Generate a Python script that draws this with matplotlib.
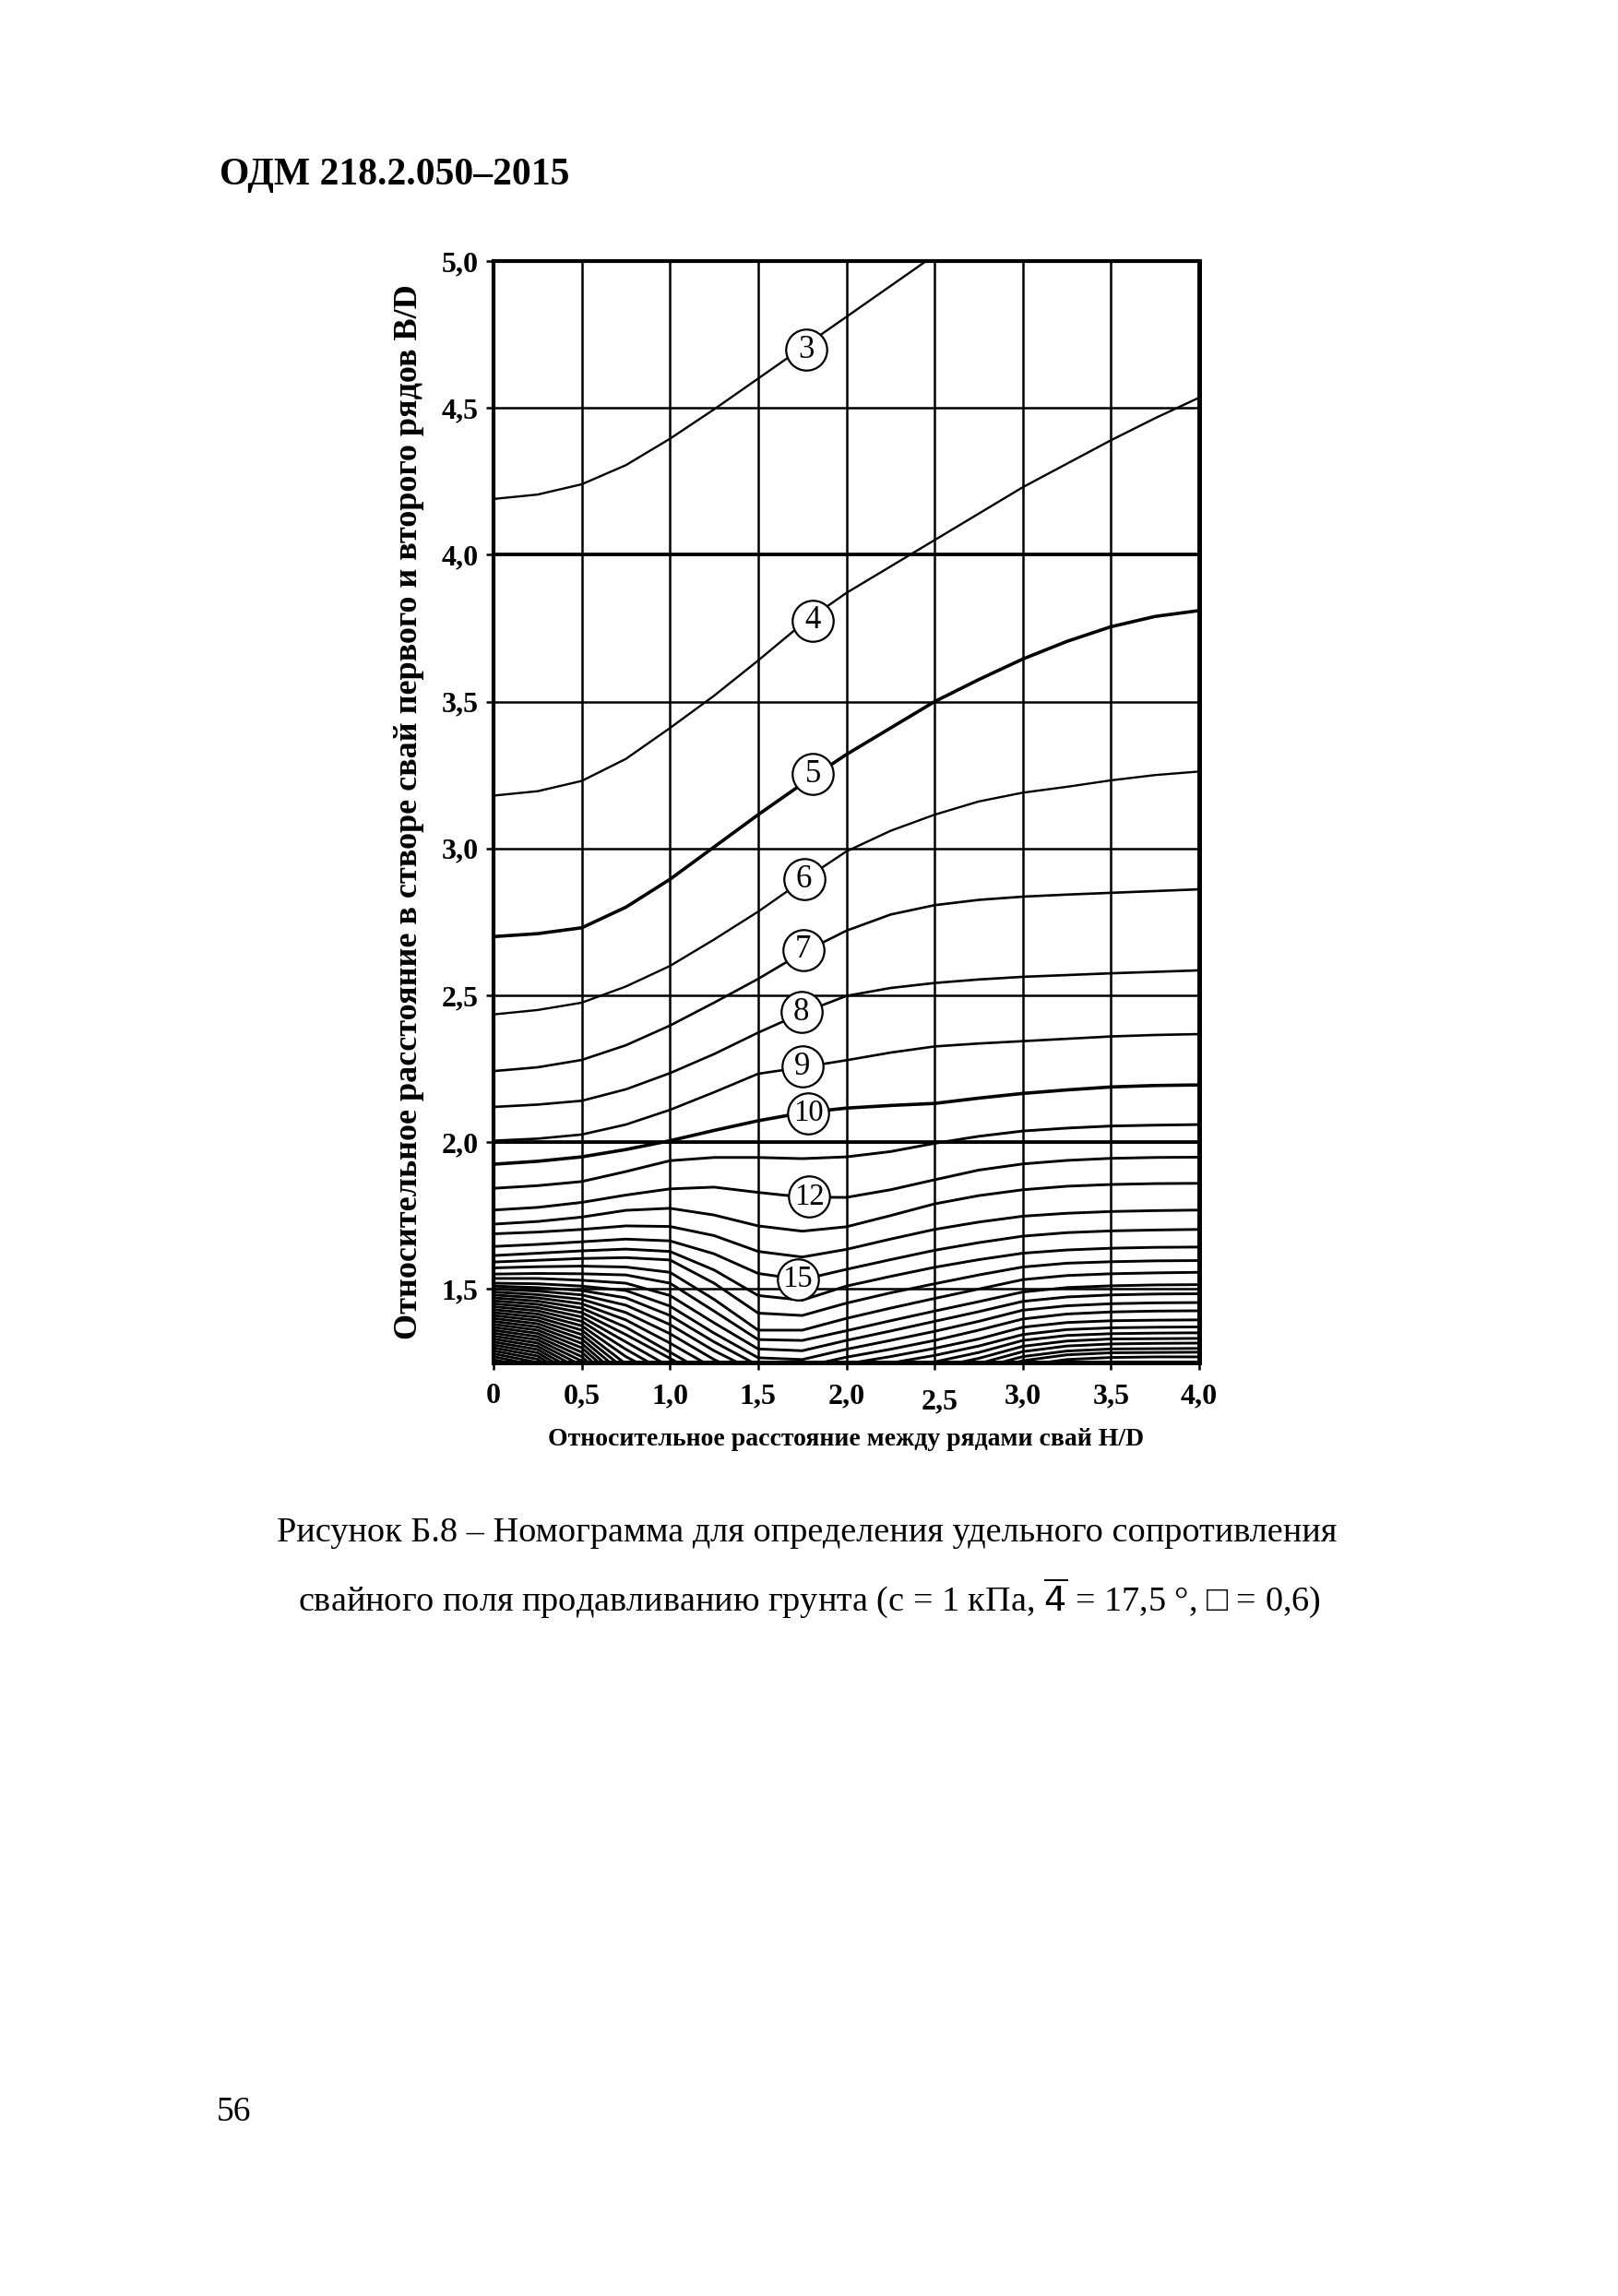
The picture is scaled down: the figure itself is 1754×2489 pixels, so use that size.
import numpy as np
import matplotlib.pyplot as plt
from matplotlib.transforms import ScaledTranslation

n = np.nan

hd = [0, 0.25, 0.5, 0.75, 1.0, 1.25, 1.5, 1.75, 2.0, 2.25, 2.5, 2.75, 3.0, 3.25, 3.5, 3.75, 4.0]

# B/D for each curve (labelled 3 ... 15, the rest unlabelled)
r3 = [4.19, 4.205, 4.24, 4.305, 4.395, 4.495, 4.60, 4.705, 4.81, 4.915, 5.02]
r4 = [3.18, 3.195, 3.23, 3.305, 3.41, 3.52, 3.64, 3.765, 3.87, 3.96, 4.05, 4.14, 4.23, 4.31, 4.39, 4.465, 4.535]
r5 = [2.70, 2.71, 2.73, 2.80, 2.895, 3.005, 3.115, 3.22, 3.32, 3.41, 3.50, 3.575, 3.645, 3.705, 3.755, 3.79, 3.81]
r6 = [2.435, 2.45, 2.475, 2.53, 2.60, 2.69, 2.785, 2.89, 2.99, 3.06, 3.115, 3.16, 3.19, 3.21, 3.232, 3.25, 3.262]
r7 = [2.242, 2.255, 2.28, 2.33, 2.397, 2.475, 2.556, 2.645, 2.72, 2.775, 2.807, 2.825, 2.836, 2.843, 2.849, 2.855, 2.861]
r8 = [2.12, 2.128, 2.141, 2.18, 2.235, 2.30, 2.373, 2.44, 2.498, 2.525, 2.542, 2.554, 2.563, 2.569, 2.575, 2.58, 2.585]
r9 = [2.005, 2.012, 2.026, 2.06, 2.11, 2.17, 2.233, 2.255, 2.279, 2.305, 2.326, 2.336, 2.344, 2.352, 2.36, 2.365, 2.368]
r10 = [1.925, 1.935, 1.95, 1.975, 2.005, 2.04, 2.073, 2.10, 2.116, 2.125, 2.132, 2.15, 2.166, 2.178, 2.188, 2.193, 2.195]
r11 = [1.843, 1.852, 1.866, 1.90, 1.937, 1.948, 1.948, 1.944, 1.95, 1.968, 1.996, 2.02, 2.038, 2.048, 2.055, 2.058, 2.06]
r12 = [1.769, 1.778, 1.795, 1.82, 1.841, 1.847, 1.829, 1.813, 1.812, 1.838, 1.872, 1.905, 1.926, 1.938, 1.945, 1.948, 1.949]
r13 = [1.721, 1.73, 1.745, 1.768, 1.775, 1.752, 1.715, 1.697, 1.712, 1.75, 1.79, 1.818, 1.838, 1.85, 1.856, 1.859, 1.86]
r14 = [1.688, 1.694, 1.703, 1.715, 1.713, 1.682, 1.628, 1.609, 1.635, 1.67, 1.703, 1.728, 1.748, 1.758, 1.764, 1.767, 1.769]
r15 = [1.645, 1.652, 1.661, 1.67, 1.664, 1.62, 1.553, 1.532, 1.567, 1.60, 1.632, 1.658, 1.68, 1.692, 1.698, 1.701, 1.703]
r16 = [1.614, 1.622, 1.63, 1.636, 1.628, 1.565, 1.478, 1.462, 1.51, 1.543, 1.574, 1.60, 1.622, 1.633, 1.639, 1.642, 1.643]
r17 = [1.592, 1.598, 1.604, 1.607, 1.599, 1.52, 1.418, 1.41, 1.452, 1.487, 1.518, 1.548, 1.575, 1.588, 1.593, 1.596, 1.597]
r18 = [1.572, 1.576, 1.578, 1.575, 1.557, 1.465, 1.36, 1.36, 1.40, 1.435, 1.468, 1.50, 1.532, 1.546, 1.552, 1.555, 1.557]
r19 = [1.551, 1.553, 1.552, 1.548, 1.52, 1.425, 1.328, 1.325, 1.358, 1.392, 1.425, 1.457, 1.49, 1.505, 1.511, 1.514, 1.515]
r20 = [1.536, 1.536, 1.53, 1.52, 1.478, 1.385, 1.296, 1.29, 1.325, 1.357, 1.39, 1.423, 1.458, 1.473, 1.48, 1.483, 1.484]
r21 = [1.52, 1.518, 1.51, 1.495, 1.442, 1.35, 1.266, 1.26, 1.295, 1.325, 1.356, 1.39, 1.428, 1.443, 1.45, 1.453, 1.454]
r22 = [1.51, 1.505, 1.495, 1.47, 1.41, 1.32, 1.24, 1.235, 1.268, 1.295, 1.325, 1.36, 1.398, 1.415, 1.422, 1.425, 1.426]
r23 = [1.50, 1.493, 1.48, 1.445, 1.379, 1.29, 1.215, 1.212, 1.245, 1.27, 1.298, 1.33, 1.37, 1.386, 1.392, 1.394, 1.395]
r24 = [1.49, 1.481, 1.465, 1.42, 1.348, 1.26, 1.19, n, 1.225, 1.248, 1.274, 1.306, 1.345, 1.362, 1.368, 1.37, 1.371]
r25 = [1.48, 1.47, 1.45, 1.395, 1.316, 1.23, n, n, 1.205, 1.228, 1.252, 1.284, 1.325, 1.342, 1.348, 1.35, 1.351]
r26 = [1.47, 1.459, 1.435, 1.37, 1.285, 1.20, n, n, n, 1.205, 1.232, 1.264, 1.305, 1.323, 1.33, 1.331, 1.332]
r27 = [1.46, 1.448, 1.42, 1.345, 1.264, 1.18, n, n, n, n, 1.215, 1.246, 1.287, 1.306, 1.313, 1.315, 1.316]
r28 = [1.45, 1.437, 1.405, 1.32, 1.235, n, n, n, n, n, n, 1.23, 1.27, 1.289, 1.296, 1.297, 1.298]
r29 = [1.44, 1.426, 1.39, 1.295, 1.21, n, n, n, n, n, n, 1.217, 1.256, 1.276, 1.283, 1.284, 1.285]
r30 = [1.43, 1.415, 1.375, 1.27, 1.19, n, n, n, n, n, n, n, 1.24, 1.26, 1.267, 1.269, 1.269]
r31 = [1.42, 1.404, 1.36, 1.245]
r32 = [1.41, 1.393, 1.345, 1.225]
r33 = [1.40, 1.382, 1.33, 1.205]
r34 = [1.39, 1.371, 1.315, 1.185]
r35 = [1.38, 1.36, 1.30, 1.17]
r36 = [1.37, 1.349, 1.285, 1.15]
r37 = [1.36, 1.338, 1.27, 1.13]
r38 = [1.35, 1.327, 1.255, 1.11]
r39 = [1.34, 1.316, 1.24]
r40 = [1.33, 1.305, 1.225]
r41 = [1.32, 1.294, 1.21]
r42 = [1.31, 1.283, 1.195]
r43 = [1.30, 1.272, 1.18]
r44 = [1.29, 1.261, 1.165]
r45 = [1.28, 1.25, 1.15]
r46 = [1.27, 1.239]
r47 = [1.26, 1.228]

curves = [r3, r4, r5, r6, r7, r8, r9, r10, r11, r12, r13, r14, r15, r16, r17, r18,
          r19, r20, r21, r22, r23, r24, r25, r26, r27, r28, r29, r30, r31, r32, r33,
          r34, r35, r36, r37, r38, r39, r40, r41, r42, r43, r44, r45, r46, r47]
curve_ids = list(range(3, 48))

# circled curve numbers
lab_text = ['3', '4', '5', '6', '7', '8', '9', '10', '12', '15']
lab_x = [1.77, 1.81, 1.81, 1.76, 1.755, 1.745, 1.75, 1.785, 1.79, 1.725]
lab_y = [4.697, 3.776, 3.253, 2.895, 2.655, 2.442, 2.257, 2.099, 1.814, 1.532]

x_ticks = [0, 0.5, 1.0, 1.5, 2.0, 2.5, 3.0, 3.5, 4.0]
x_labels = ['0', '0,5', '1,0', '1,5', '2,0', '2,5', '3,0', '3,5', '4,0']
y_ticks = [1.5, 2.0, 2.5, 3.0, 3.5, 4.0, 4.5, 5.0]
y_labels = ['1,5', '2,0', '2,5', '3,0', '3,5', '4,0', '4,5', '5,0']
heavy_rows = [2.0, 4.0]

plt.rcParams['font.family'] = ['Liberation Serif', 'DejaVu Sans']

fig = plt.figure(figsize=(17.54, 24.89), dpi=100)
ax = fig.add_axes([535 / 1754, 1 - 1477 / 2489, 765 / 1754, 1194 / 2489])

for cid, r in zip(curve_ids, curves):
    if cid in (5, 10):
        lw = 2.6
    elif cid in (3, 4, 6):
        lw = 1.7
    elif cid <= 9:
        lw = 1.9
    else:
        lw = 2.1
    ax.plot(hd[:len(r)], r, color='black', lw=lw, zorder=3)

ax.set_xlim(0, 4)
ax.set_ylim(1.25, 5.0)
ax.set_xticks(x_ticks, x_labels)
ax.set_yticks(y_ticks, y_labels)
ax.grid(True, color='black', lw=1.8, zorder=1)
for yy in heavy_rows:
    ax.axhline(yy, color='black', lw=2.7, zorder=1)

for s in ax.spines.values():
    s.set_linewidth(3.0)
    s.set_zorder(6)
ax.spines['bottom'].set_linewidth(3.6)
ax.spines['right'].set_linewidth(3.6)

ax.tick_params(axis='both', direction='out', length=6, width=1.8, labelsize=23)
ax.tick_params(axis='x', pad=10)
ax.tick_params(axis='y', pad=6)
plt.setp(ax.get_xticklabels() + ax.get_yticklabels(), fontweight='bold')

# the "2,5" label sits a little lower and to the right in the original
lbl = ax.xaxis.get_major_ticks()[5].label1
lbl.set_transform(lbl.get_transform() + ScaledTranslation(0.05, -0.06, fig.dpi_scale_trans))

# number circles
ax.plot(lab_x, lab_y, 'o', ms=32, mfc='white', mec='black', mew=1.6, zorder=4)
for t, x, y in zip(lab_text, lab_x, lab_y):
    ax.text(x, y, t, ha='center', va='center', fontsize=25 if len(t) == 1 else 23.5,
            zorder=5)

ax.set_xlabel('Относительное расстояние между рядами свай H/D',
              fontsize=20, fontweight='bold')
ax.xaxis.set_label_coords(0.5, -0.07)
ax.xaxis.label.set_va('center')
ax.set_ylabel('Относительное расстояние в створе свай первого и второго рядов B/D',
              fontsize=26, fontweight='bold')
ax.yaxis.set_label_coords(-0.12, 0.5)
ax.yaxis.label.set_va('center')

fig.text(238 / 1754, 1 - 200 / 2489, 'ОДМ 218.2.050–2015', ha='left', va='baseline',
         fontsize=30, fontweight='bold')
fig.text(875 / 1754, 1 - 1671 / 2489,
         'Рисунок Б.8 – Номограмма для определения удельного сопротивления',
         ha='center', va='baseline', fontsize=27.5)
fig.text(877 / 1754, 1 - 1746 / 2489,
         'свайного поля продавливанию грунта (с = 1 кПа, $\\overline{4}$ = 17,5 °, □ = 0,6)',
         ha='center', va='baseline', fontsize=27.5)
fig.text(235 / 1754, 1 - 2299 / 2489, '56', ha='left', va='baseline', fontsize=27)

fig.savefig('out.png', dpi=100, facecolor='white')
